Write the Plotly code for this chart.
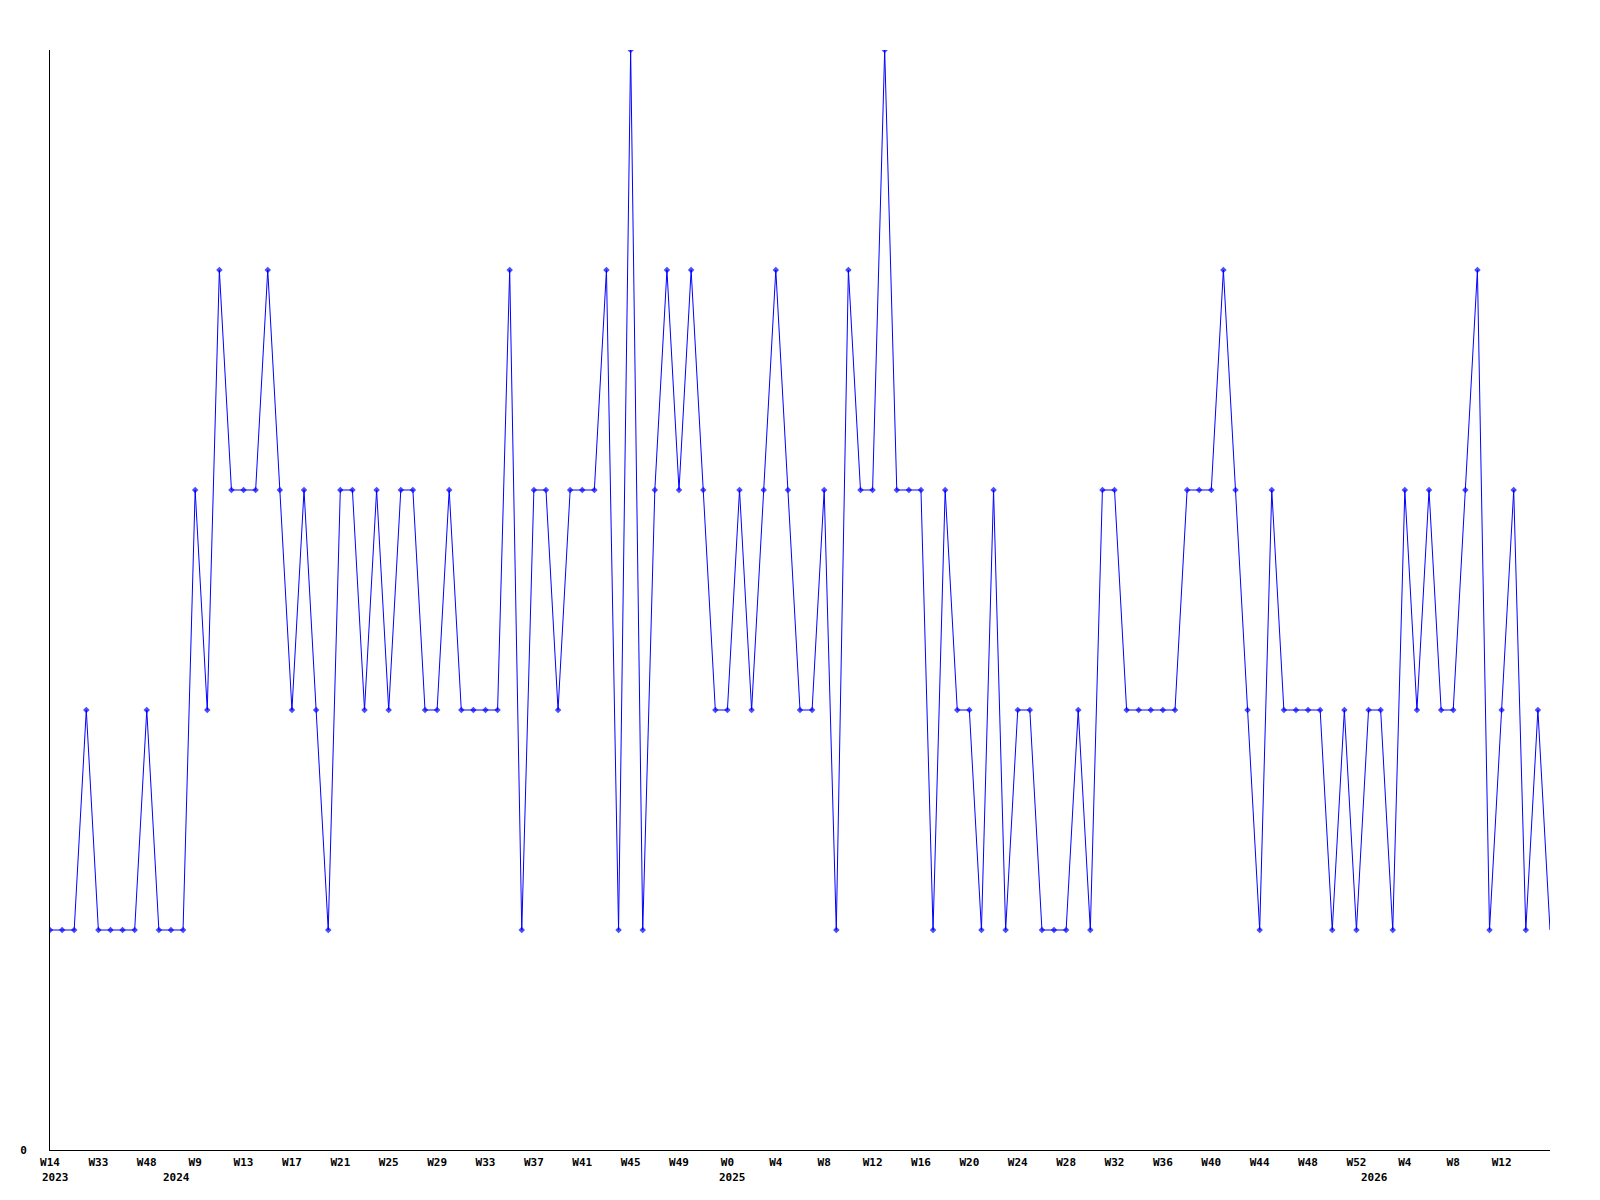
import plotly.graph_objects as go

values = [1, 1, 1, 2, 1, 1, 1, 1, 2, 1, 1, 1, 3, 2, 4, 3, 3, 3, 4, 3,
          2, 3, 2, 1, 3, 3, 2, 3, 2, 3, 3, 2, 2, 3, 2, 2, 2, 2, 4, 1,
          3, 3, 2, 3, 3, 3, 4, 1, 5, 1, 3, 4, 3, 4, 3, 2, 2, 3, 2, 3,
          4, 3, 2, 2, 3, 1, 4, 3, 3, 5, 3, 3, 3, 1, 3, 2, 2, 1, 3, 1,
          2, 2, 1, 1, 1, 2, 1, 3, 3, 2, 2, 2, 2, 2, 3, 3, 3, 4, 3, 2,
          1, 3, 2, 2, 2, 2, 1, 2, 1, 2, 2, 1, 3, 2, 3, 2, 2, 3, 4, 1,
          2, 3, 1, 2, 1]

tick_labels = ["W14", "W33", "W48", "W9", "W13", "W17", "W21", "W25", "W29",
               "W33", "W37", "W41", "W45", "W49", "W0", "W4", "W8", "W12",
               "W16", "W20", "W24", "W28", "W32", "W36", "W40", "W44", "W48",
               "W52", "W4", "W8", "W12"]
tick_step = 4

year_labels = ["2023", "2024", "2025", "2026"]
year_index = [0, 10, 56, 109]

x = list(range(len(values)))
tick_vals = [i * tick_step for i in range(len(tick_labels))]

BLUE = "#0000ff"
FONT = dict(family="DejaVu Sans Mono", size=11, color="black")

marker_sizes = [5] * len(values)
marker_sizes[-1] = 0

fig = go.Figure()
fig.add_trace(go.Scatter(
    x=x, y=values, mode="lines+markers",
    line=dict(color=BLUE, width=1),
    marker=dict(symbol="diamond", size=marker_sizes, color=BLUE, line=dict(width=0)),
    hoverinfo="skip", showlegend=False,
))

for lbl, idx in zip(year_labels, year_index):
    fig.add_annotation(
        x=idx, y=0, xref="x", yref="y", text="<b>%s</b>" % lbl,
        showarrow=False, xanchor="left", yanchor="middle",
        xshift=-10, yshift=-27, font=FONT,
    )

fig.update_layout(
    width=1600, height=1200, autosize=False,
    margin=dict(l=42, r=58, t=42, b=58),
    paper_bgcolor="white", plot_bgcolor="white",
    font=FONT,
)
fig.update_xaxes(
    range=[0, len(values) - 1], showgrid=False, zeroline=False,
    showline=True, linecolor="black", linewidth=1,
    tickmode="array", tickvals=tick_vals,
    ticktext=["<b>%s</b>" % t for t in tick_labels],
    ticks="", tickfont=FONT, ticklabelstandoff=2,
)
fig.update_yaxes(
    range=[0, 5], showgrid=False, zeroline=False,
    showline=True, linecolor="black", linewidth=1,
    tickmode="array", tickvals=[0], ticktext=["<b>0</b>"],
    ticks="", tickfont=FONT, ticklabelstandoff=20,
)

fig.write_html("out.html")
